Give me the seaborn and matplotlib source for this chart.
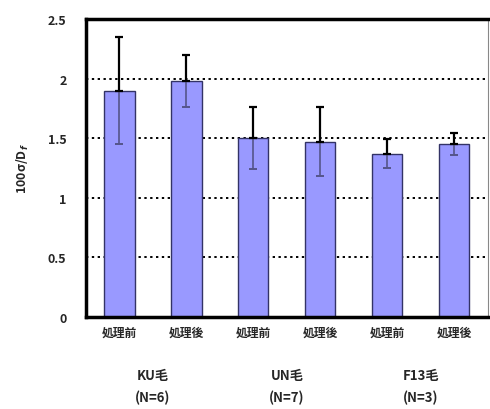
import matplotlib
matplotlib.use("Agg")
import matplotlib.pyplot as plt
import seaborn as sns
import numpy as np

# data
bar_keys = ["a1", "a2", "b1", "b2", "c1", "c2"]
bar_labels = ["処理前", "処理後", "処理前", "処理後", "処理前", "処理後"]
values = [1.90, 1.98, 1.50, 1.47, 1.37, 1.45]
errors = [0.45, 0.22, 0.26, 0.29, 0.12, 0.09]
groups = ["KU毛\n(N=6)", "UN毛\n(N=7)", "F13毛\n(N=3)"]
yticks = [0, 0.5, 1, 1.5, 2, 2.5]

sns.set_style("white")
plt.rcParams['font.family'] = ['Noto Sans CJK JP', 'DejaVu Sans']
plt.rcParams['font.weight'] = 'bold'

fig = plt.figure(figsize=(4.9, 4.1), dpi=100)
ax = fig.add_axes([0.1755, 0.2244, 0.82, 0.7266])

# dotted grid first
ax.yaxis.grid(True, linestyle=(0, (1.2, 1.8)), color="black", linewidth=1.4, zorder=0)
ax.set_axisbelow(True)

sns.barplot(x=bar_keys, y=values, color="#9999ff", saturation=1, width=0.45,
            edgecolor="#333366", linewidth=1.0, ax=ax, zorder=2)

xs = np.arange(len(values))
vals = np.array(values)
errs = np.array(errors)
# upper half of error bars (black, above the bar)
ax.errorbar(xs, vals, yerr=[np.zeros_like(errs), errs], fmt="none", ecolor="black",
            elinewidth=1.6, capsize=3, capthick=1.6, zorder=4)
# lower half seen through the bar
ax.errorbar(xs, vals, yerr=[errs, np.zeros_like(errs)], fmt="none", ecolor="#55558a",
            elinewidth=1.2, capsize=3, capthick=1.4, zorder=3)

ax.set_xlim(-0.5, len(values) - 0.5)
ax.set_ylim(0, 2.5)
ax.set_yticks(yticks)
ax.set_yticklabels([f"{t:g}" for t in yticks], fontsize=9, fontweight="bold")
ax.set_xticks(xs)
ax.set_xticklabels(bar_labels, fontsize=8.5, fontweight="bold")
ax.set_xticks(np.arange(0.5, len(values) - 1, 1), minor=True)
ax.tick_params(axis="x", which="major", length=0, pad=6)
ax.tick_params(axis="x", which="minor", length=3, direction="in", width=1.2)
ax.tick_params(axis="y", length=0, pad=14)
ax.set_ylabel("100σ/D$_f$", fontsize=9, fontweight="bold", labelpad=12)
ax.set_xlabel("")

for side in ["left", "bottom", "top"]:
    ax.spines[side].set_linewidth(2.5)
    ax.spines[side].set_color("black")
ax.spines["right"].set_linewidth(0.8)
ax.spines["right"].set_color("#888888")

for i, g in enumerate(groups):
    ax.text(2 * i + 0.5, -0.43, g, ha="center", va="top", fontsize=9.5,
            fontweight="bold", transform=ax.transData, linespacing=1.7)

fig.savefig("out.png", dpi=100)
